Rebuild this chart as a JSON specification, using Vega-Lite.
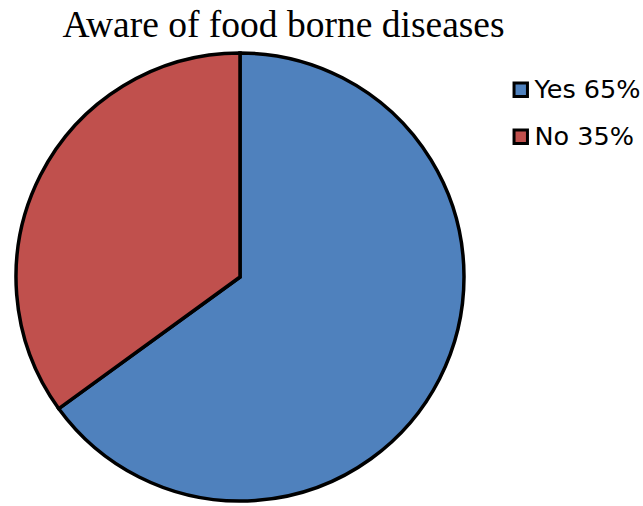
{
  "$schema": "https://vega.github.io/schema/vega-lite/v6.json",
  "autosize": "none",
  "width": 450,
  "height": 450,
  "padding": {"left": 15, "top": 52, "right": 178, "bottom": 4},
  "background": "white",
  "title": {
    "text": "Aware of food borne diseases",
    "font": "Liberation Serif",
    "fontSize": 37.5,
    "fontWeight": "normal",
    "color": "black",
    "anchor": "middle",
    "frame": "group",
    "dx": 43.5,
    "offset": 2
  },
  "data": {
    "values": [
      {"label": "Yes 65%", "value": 65, "order": 1},
      {"label": "No 35%", "value": 35, "order": 2}
    ]
  },
  "mark": {"type": "arc", "stroke": "black", "strokeWidth": 3.5, "outerRadius": 224},
  "encoding": {
    "theta": {"field": "value", "type": "quantitative", "stack": true},
    "order": {"field": "order", "type": "quantitative"},
    "color": {
      "field": "label",
      "type": "nominal",
      "sort": ["Yes 65%", "No 35%"],
      "scale": {"domain": ["Yes 65%", "No 35%"], "range": ["#4F81BD", "#C0504D"]},
      "legend": {
        "title": null,
        "orient": "none",
        "legendX": 493,
        "legendY": 25,
        "symbolType": "square",
        "symbolSize": 180,
        "symbolStrokeColor": "black",
        "symbolStrokeWidth": 3,
        "labelFont": "DejaVu Sans",
        "labelFontSize": 25.5,
        "labelColor": "black",
        "labelOffset": 1,
        "rowPadding": 20,
        "padding": 0
      }
    }
  },
  "config": {"view": {"stroke": null}, "legend": {"padding": 0}}
}
